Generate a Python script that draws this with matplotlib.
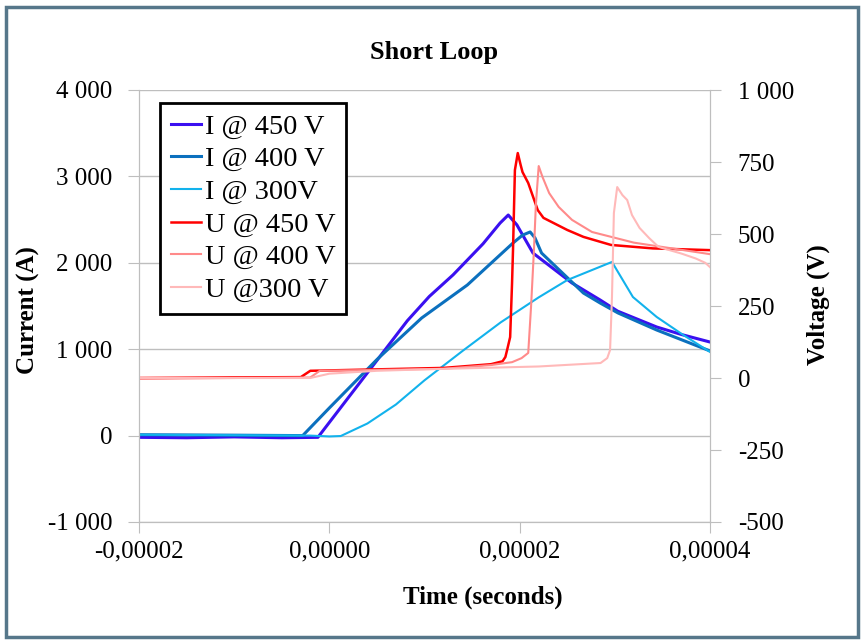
import numpy as np
import matplotlib
matplotlib.use("Agg")
import matplotlib.pyplot as plt
from matplotlib.patches import Rectangle
from matplotlib.ticker import FuncFormatter

plt.rcParams['font.family'] = ['Liberation Serif', 'DejaVu Serif']

# --- data (time in microseconds) ---
t_i450 = [-20, -15, -10, -5, -1.2, 2, 5, 8.2, 10.5, 13, 16.15, 17.94, 18.8, 19.7, 21.4, 25.5, 28.45, 30.3, 34.4, 37, 40]
i450 = [-20, -25, -15, -25, -20, 440, 870, 1330, 1610, 1860, 2220, 2460, 2553, 2440, 2113, 1766, 1570, 1440, 1257, 1170, 1083]

t_i400 = [-20, -10, -2.8, 0, 5, 9.7, 14.5, 19.3, 20.3, 21.1, 21.6, 22.3, 26.7, 28.45, 30.34, 34.4, 40]
i400 = [10, 5, 0, 320, 880, 1361, 1743, 2229, 2320, 2357, 2290, 2113, 1650, 1535, 1419, 1222, 980]

t_i300 = [-20, -10, -2, 0, 1.2, 4, 7, 10, 14, 18, 22, 25, 29.7, 31.9, 34.4, 37.2, 40]
i300 = [10, 5, 0, -10, -5, 140, 360, 640, 980, 1310, 1600, 1800, 2010, 1604, 1373, 1164, 968]

t_u450 = [-20, -10, -3, -2, 5, 12, 17, 18.2, 18.5, 18.7, 19.0, 19.2, 19.3, 19.5, 19.8, 20.1, 20.3, 20.9, 21.9, 22.5, 25.0, 26.7, 29.6, 34, 40]
u450 = [0, 2, 3, 25, 30, 35, 48, 58, 73, 100, 142, 330, 444, 722, 781, 740, 715, 677, 583, 556, 514, 490, 462, 450, 444]

t_u400 = [-20, -10, -2, -1, 5, 12, 17, 19.2, 20.2, 20.9, 21.2, 21.5, 21.7, 22.0, 22.4, 23.1, 24.1, 25.5, 27.6, 30.1, 32, 35, 40]
u400 = [-3, 0, 2, 25, 28, 32, 45, 55, 69, 87, 250, 444, 600, 736, 698, 642, 594, 549, 507, 486, 470, 455, 430]

t_u300 = [-20, -2, 0, 5, 10, 16, 22, 28.5, 29.2, 29.5, 29.7, 29.9, 30.25, 30.8, 31.3, 31.8, 32.6, 33.6, 34.6, 37, 38.5, 39.5, 40]
u300 = [0, 0, 15, 25, 30, 35, 40, 52, 69, 97, 281, 573, 663, 635, 618, 566, 521, 486, 455, 432, 415, 400, 385]

i_labels = ["I @ 450 V", "I @ 400 V", "I @ 300V"]
u_labels = ["U @ 450 V", "U @ 400 V", "U @300 V"]
i_colors = ["#3A10F0", "#0B70BE", "#12B2EC"]
u_colors = ["#FF0000", "#FF8A8A", "#FFB9B9"]

fig = plt.figure(figsize=(8.64, 6.44), dpi=100)
ax = fig.add_axes([139 / 864, 1 - 522 / 644, 571 / 864, 432 / 644])
ax2 = ax.twinx()

us = 1e-6
h1, = ax.plot(np.array(t_i450) * us, i450, color=i_colors[0], lw=2.2, label=i_labels[0])
h2, = ax.plot(np.array(t_i400) * us, i400, color=i_colors[1], lw=2.2, label=i_labels[1])
h3, = ax.plot(np.array(t_i300) * us, i300, color=i_colors[2], lw=1.5, label=i_labels[2])
h4, = ax2.plot(np.array(t_u450) * us, u450, color=u_colors[0], lw=1.8, label=u_labels[0])
h5, = ax2.plot(np.array(t_u400) * us, u400, color=u_colors[1], lw=1.5, label=u_labels[1])
h6, = ax2.plot(np.array(t_u300) * us, u300, color=u_colors[2], lw=1.5, label=u_labels[2])

grid_c = '#BEBEBE'
ax.set_xlim(-2e-5, 4e-5)
ax.set_ylim(-1000, 4000)
ax2.set_ylim(-500, 1000)
ax.set_xticks([-2e-5, 0, 2e-5, 4e-5])
ax.set_yticks(np.arange(-1000, 4001, 1000))
ax2.set_yticks(np.arange(-500, 1001, 250))
ax.yaxis.grid(True, color=grid_c, lw=1)
ax.set_axisbelow(True)


def fmt_x(v, pos):
    if abs(v) < 1e-12:
        v = 0.0
    return f"{v:.5f}".replace('.', ',')


def fmt_y(v, pos):
    return f"{int(round(v)):,}".replace(',', ' ')


ax.xaxis.set_major_formatter(FuncFormatter(fmt_x))
ax.yaxis.set_major_formatter(FuncFormatter(fmt_y))
ax2.yaxis.set_major_formatter(FuncFormatter(fmt_y))

for a in (ax, ax2):
    for s in a.spines.values():
        s.set_color(grid_c)
    a.spines['top'].set_visible(False)
ax.tick_params(axis='y', length=8, color=grid_c, labelsize=18, pad=11)
ax.tick_params(axis='x', length=8, color=grid_c, labelsize=18, pad=5)
ax2.tick_params(axis='y', length=8, color=grid_c, labelsize=18, pad=12)

fig.text(434 / 864, 1 - 52 / 644, "Short Loop", ha='center', va='center', fontsize=19, fontweight='bold')
fig.text(483 / 864, 1 - 597 / 644, "Time (seconds)", ha='center', va='center', fontsize=18, fontweight='bold')
fig.text(28 / 864, 1 - 310 / 644, "Current (A)", rotation=90, ha='center', va='center', fontsize=18, fontweight='bold')
fig.text(818 / 864, 1 - 305 / 644, "Voltage (V)", rotation=90, ha='center', va='center', fontsize=18, fontweight='bold')

leg = ax2.legend(handles=[h1, h2, h3, h4, h5, h6], loc='upper left',
                 bbox_to_anchor=((160 - 139) / 571, 1 - (103 - 90) / 432),
                 borderaxespad=0, fontsize=20.4, handlelength=1.05, handletextpad=0.15,
                 labelspacing=0.24, borderpad=0.38, fancybox=False, framealpha=1)
leg.get_frame().set_edgecolor('black')
leg.get_frame().set_linewidth(2)

fig.patches.append(Rectangle((6 / 864, 7 / 644), 852 / 864, 630 / 644, transform=fig.transFigure,
                             fill=False, ec='#56778A', lw=2.5))

fig.savefig("out.png", dpi=100)
